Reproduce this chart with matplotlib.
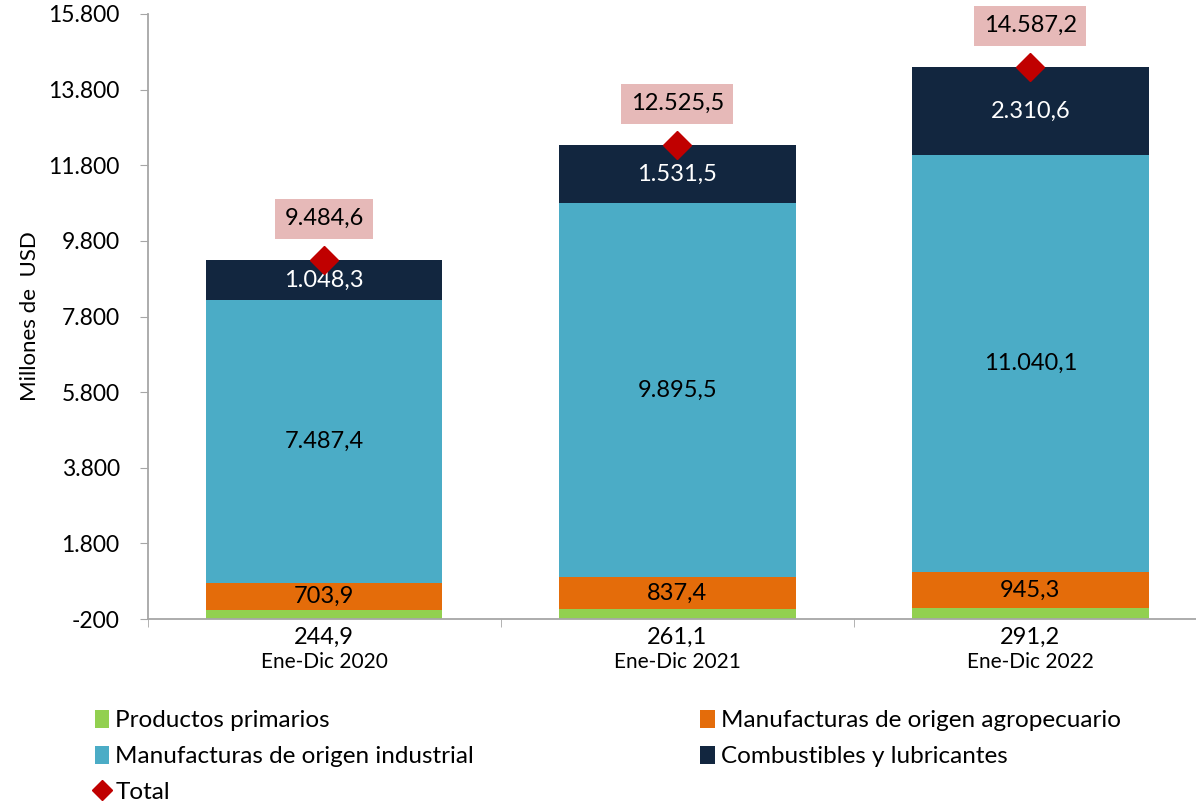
import matplotlib
matplotlib.use("Agg")
import matplotlib.pyplot as plt
from matplotlib.lines import Line2D
from matplotlib.ticker import FuncFormatter

periodos = ["Ene-Dic 2020", "Ene-Dic 2021", "Ene-Dic 2022"]
primarios = [244.9, 261.1, 291.2]
agropecuario = [703.9, 837.4, 945.3]
industrial = [7487.4, 9895.5, 11040.1]
combustibles = [1048.3, 1531.5, 2310.6]
total = [9484.6, 12525.5, 14587.2]

Y_MIN, Y_MAX = -200, 15800

plt.rcParams['font.family'] = ['Lato', 'DejaVu Sans']


def es(v, dec=1):
    s = f"{v:,.{dec}f}"
    return s.replace(",", "X").replace(".", ",").replace("X", ".")


fig = plt.figure(figsize=(11.96, 8.06), dpi=100)
ax = fig.add_axes([147.5 / 1196, 1 - 619 / 806, (1207 - 147.5) / 1196, (619 - 14) / 806])

x = list(range(len(periodos)))
width = 0.67
series = [
    ("Productos primarios", primarios, "#92D050", "black"),
    ("Manufacturas de origen agropecuario", agropecuario, "#E46C0A", "black"),
    ("Manufacturas de origen industrial", industrial, "#4BACC6", "black"),
    ("Combustibles y lubricantes", combustibles, "#12263F", "white"),
]

# excel draws the columns from the axis crossing (-200)
base = [Y_MIN] * len(x)
handles = {}
for i, (name, vals, col, tcol) in enumerate(series):
    bars = ax.bar(x, vals, width, bottom=base, color=col, label=name, zorder=2)
    handles[name] = bars
    for xi, b, v in zip(x, base, vals):
        if i == 0:
            ax.annotate(es(v), (xi, Y_MIN), xytext=(0, -13), textcoords="offset points",
                        ha="center", va="center", fontsize=17, color=tcol, annotation_clip=False)
        else:
            ax.text(xi, b + v / 2, es(v), ha="center", va="center", fontsize=17, color=tcol, zorder=3)
    base = [b + v for b, v in zip(base, vals)]

tops = [Y_MIN + t for t in total]
ax.plot(x, tops, linestyle="none", marker="D", markersize=14, color="#C00000", zorder=4)
for xi, t, v in zip(x, tops, total):
    ax.annotate(es(v), (xi, t), xytext=(0, 30), textcoords="offset points",
                ha="center", va="center", fontsize=17,
                bbox=dict(boxstyle="square,pad=0.4", fc="#E6B9B8", ec="none"))

ax.set_xlim(-0.5, len(x) - 0.5)
ax.set_ylim(Y_MIN, Y_MAX)
ax.set_yticks(range(Y_MIN, Y_MAX + 1, 2000))
ax.yaxis.set_major_formatter(FuncFormatter(lambda v, p: es(v, 0)))
ax.set_xticks(x, periodos)
ax.set_xticks([i - 0.5 for i in range(len(x) + 1)], minor=True)
ax.tick_params(axis="x", which="major", length=0, pad=24, labelsize=15)
ax.tick_params(axis="x", which="minor", length=6, color="#A6A6A6")
ax.tick_params(axis="y", length=6, color="#A6A6A6", labelsize=16.5, pad=14)
for s in ["top", "right"]:
    ax.spines[s].set_visible(False)
for s in ["left", "bottom"]:
    ax.spines[s].set_color("#A6A6A6")
    ax.spines[s].set_linewidth(1.3)
ax.set_ylabel("Millones de  USD", fontsize=16, labelpad=6)

total_h = Line2D([], [], linestyle="none", marker="D", markersize=10, color="#C00000", label="Total")
order = [handles["Productos primarios"], handles["Manufacturas de origen industrial"], total_h,
         handles["Manufacturas de origen agropecuario"], handles["Combustibles y lubricantes"]]
fig.legend(handles=order, loc="upper left", ncol=2,
           bbox_to_anchor=(85 / 1196, 1 - 700 / 806),
           frameon=False, fontsize=17.5, handlelength=0.6, handleheight=0.8,
           handletextpad=0.25, labelspacing=0.58, columnspacing=9.3, borderaxespad=0)

fig.savefig("out.png", dpi=100)
